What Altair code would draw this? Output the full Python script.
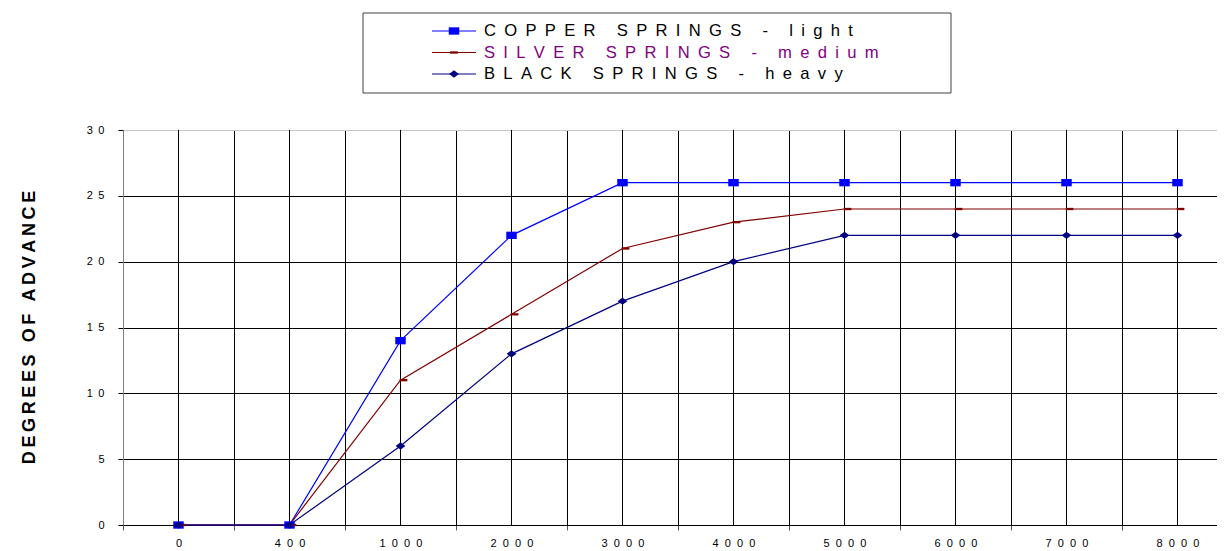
import altair as alt
import pandas as pd

# ---- data ----
rpm = ["0", "400", "1000", "2000", "3000", "4000", "5000", "6000", "7000", "8000"]
copper = [0, 0, 14, 22, 26, 26, 26, 26, 26, 26]
silver = [0, 0, 11, 16, 21, 23, 24, 24, 24, 24]
black = [0, 0, 6, 13, 17, 20, 22, 22, 22, 22]
series_names = ["COPPER SPRINGS - light", "SILVER SPRINGS - medium", "BLACK SPRINGS - heavy"]
line_colors = ["#0000FF", "#800000", "#000080"]
text_colors = ["#000000", "#800080", "#000000"]
y_ticks = [0, 5, 10, 15, 20, 25, 30]
y_title = "DEGREES OF ADVANCE"

rows = []
for name, vals in zip(series_names, [copper, silver, black]):
    for r, v in zip(rpm, vals):
        rows.append({"rpm": r, "deg": v, "series": name})
df = pd.DataFrame(rows)
legend_df = pd.DataFrame({"series": series_names, "lcolor": line_colors, "tcolor": text_colors})

FONT = "Liberation Sans"
# marker shapes (path, size, xOffset)
marker_styles = [
    ("M-1,-0.7H1V0.7H-1Z", 110, 0),
    ("M-1,-0.3H1V0.3H-1Z", 60, 3),
    ("M-1,0L0,-0.75L1,0L0,0.75Z", 95, 0),
]

x_enc = alt.X(
    "rpm:N", sort=rpm, title=None,
    scale=alt.Scale(type="band", paddingInner=0, paddingOuter=0, range=[0, 1110]),
    axis=alt.Axis(
        tickBand="extent", grid=True, gridColor="#000000", gridWidth=1,
        domainColor="#000000", tickColor="#555555", tickSize=5,
        labelExpr="join(split(datum.label, ''), '\u00a0\u00a0')",
        labelFont=FONT, labelFontSize=11, labelColor="#000000", labelPadding=13,
        labelAngle=0, labelAlign="center",
    ),
)
y_scale = alt.Scale(domain=[0, 30], nice=False, zero=True)
y_enc = alt.Y(
    "deg:Q", scale=y_scale,
    axis=alt.Axis(
        values=y_ticks, grid=True,
        gridColor={"condition": {"test": "datum.value === 30", "value": "#c8c8c8"}, "value": "#000000"},
        domainColor="#808080", tickColor="#000000", tickSize=5,
        labelExpr="join(split(datum.label, ''), '\u2002')",
        labelFont=FONT, labelFontSize=11, labelColor="#000000", labelPadding=14,
        title="\u2009".join(y_title), titleFont=FONT, titleFontSize=18, titleFontWeight="bold",
        titleColor="#000000", titleAngle=270, titleX=-94, titleY=197,
        titleAlign="center", titleBaseline="middle",
    ),
)

color_main = alt.Color("series:N", scale=alt.Scale(domain=series_names, range=line_colors), legend=None)

center_grid = alt.Chart(pd.DataFrame({"rpm": rpm})).mark_rule(color="#000000", strokeWidth=1).encode(
    x=alt.X("rpm:N", sort=rpm)
)

lines = alt.Chart(df).mark_line(strokeWidth=1.2).encode(
    x=x_enc, y=y_enc, color=color_main, detail="series:N"
)

point_layers = []
for name, (path, size, xoff) in zip(series_names, marker_styles):
    point_layers.append(
        alt.Chart(df).transform_filter(alt.datum.series == name)
        .mark_point(filled=True, shape=path, size=size, xOffset=xoff, opacity=1)
        .encode(x=alt.X("rpm:N", sort=rpm), y=alt.Y("deg:Q", scale=y_scale), color=color_main)
    )

main = alt.layer(center_grid, lines, *point_layers)

# ---- legend (drawn above the plot) ----
leg_y = alt.Y("series:N", sort=series_names, axis=None,
              scale=alt.Scale(type="point", range=[-99, -56], padding=0))

box = alt.Chart(alt.Data(values=[{"a": 1}])).mark_rect(
    fill="#ffffff", stroke="#404040", strokeWidth=1
).encode(x=alt.value(240), x2=alt.value(828), y=alt.value(-117), y2=alt.value(-37))

leg_lines = alt.Chart(legend_df).mark_rule(strokeWidth=1.2).encode(
    x=alt.value(309), x2=alt.value(353), y=leg_y, color=alt.Color("lcolor:N", scale=None)
)

leg_points = []
for name, (path, size, xoff) in zip(series_names, marker_styles):
    leg_points.append(
        alt.Chart(legend_df).transform_filter(alt.datum.series == name)
        .mark_point(filled=True, shape=path, size=size, opacity=1)
        .encode(x=alt.value(331), y=leg_y, color=alt.Color("lcolor:N", scale=None))
    )

leg_text = alt.Chart(legend_df).transform_calculate(
    label="join(split(datum.series, ''), '\u2002')"
).mark_text(align="left", baseline="middle", font=FONT, fontSize=16.6).encode(
    x=alt.value(361), y=leg_y, text="label:N", color=alt.Color("tcolor:N", scale=None)
)

legend = alt.layer(box, leg_lines, *leg_points, leg_text)

chart = alt.layer(main, legend).resolve_scale(y="independent", color="independent").properties(
    width=1094, height=395,
    padding={"left": 115, "top": 122, "right": 0, "bottom": 30},
    autosize=alt.AutoSizeParams(type="none"),
).configure_view(stroke=None).configure(background="#ffffff")

chart.save("out.html", embed_options={"renderer": "svg", "actions": False})
